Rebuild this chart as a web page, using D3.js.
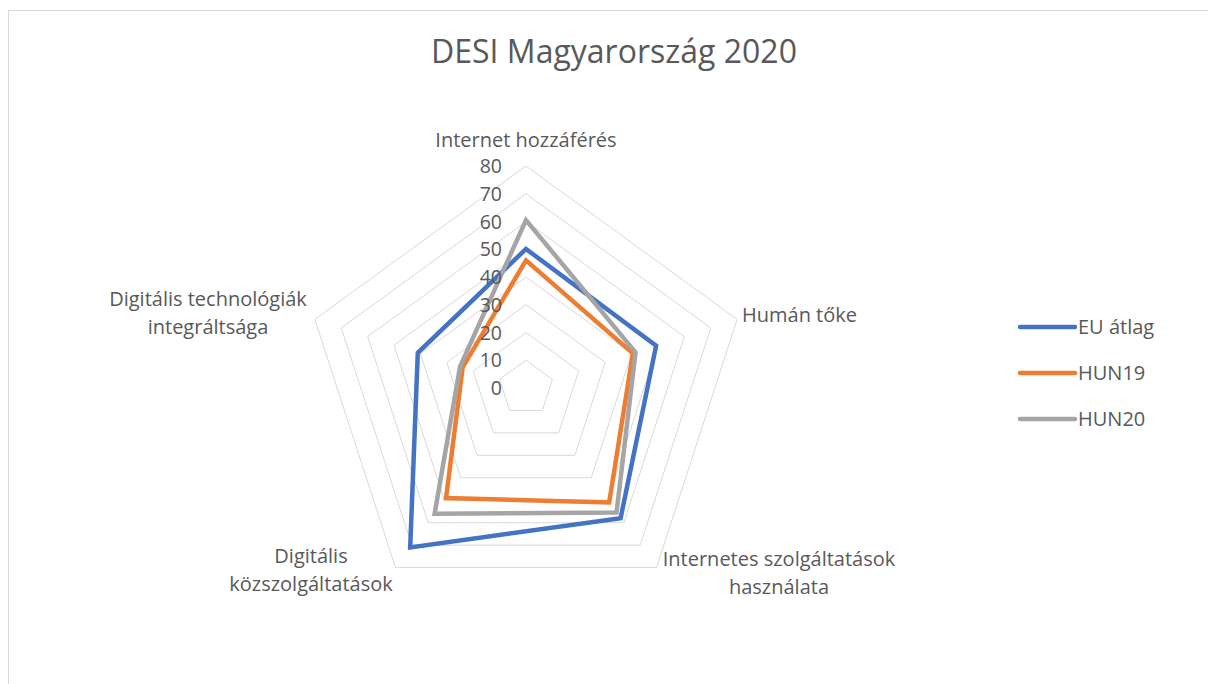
<!DOCTYPE html>
<html>
<head>
<meta charset="utf-8">
<script src="https://cdn.jsdelivr.net/npm/d3@7"></script>
<style>
  body { margin: 0; background: #fff; }
  text { font-family: "Open Sans", sans-serif; fill: #595959; }
</style>
</head>
<body>
<div id="chart"></div>
<script>
// Radar chart data
const axes = ["Internet hozzáférés", "Humán tőke", "Internetes szolgáltatások használata",
              "Digitális közszolgáltatások", "Digitális technológiák integráltsága"];
const seriesNames = ["EU átlag", "HUN19", "HUN20"];
const euValues = [50.1, 49.3, 58.0, 71.0, 41.0];
const hun19Values = [46.0, 40.5, 51.0, 49.0, 24.0];
const hun20Values = [60.5, 41.5, 55.5, 56.0, 25.0];
const ticks = [0, 10, 20, 30, 40, 50, 60, 70, 80];
const colors = ["#4472c4", "#ed7d31", "#a5a5a5"];

const width = 1208, height = 684;
const cx = 526, cy = 388, R = 222;

const svg = d3.select("#chart").append("svg")
  .attr("width", width).attr("height", height);

// chart frame
svg.append("rect")
  .attr("x", 8.5).attr("y", 10.5)
  .attr("width", 1220).attr("height", 700)
  .attr("fill", "none").attr("stroke", "#d9d9d9");

svg.append("text")
  .attr("x", 614).attr("y", 63)
  .attr("text-anchor", "middle")
  .style("font-size", "32px")
  .text("DESI Magyarország 2020");

const r = d3.scaleLinear().domain([0, 80]).range([0, R]);
const angle = i => i * 2 * Math.PI / axes.length;
const pt = (i, v) => [cx + r(v) * Math.sin(angle(i)), cy - r(v) * Math.cos(angle(i))];

// grid rings
const g = svg.append("g");
g.selectAll(".ring")
  .data(ticks.slice(1))
  .enter()
  .append("polygon")
  .attr("points", d => axes.map((a, i) => pt(i, d).join(",")).join(" "))
  .attr("fill", "none")
  .attr("stroke", "#d9d9d9")
  .attr("stroke-width", 1);

// series
const series = [euValues, hun19Values, hun20Values];
const line = d3.line().curve(d3.curveLinearClosed);
svg.selectAll(".series")
  .data(series)
  .enter()
  .append("path")
  .attr("d", d => line(d.map((v, i) => pt(i, v))))
  .attr("fill", "none")
  .attr("stroke", (d, i) => colors[i])
  .attr("stroke-width", 4.5)
  .attr("stroke-linejoin", "miter");

// tick labels
svg.selectAll(".tick")
  .data(ticks)
  .enter()
  .append("text")
  .attr("x", cx - 24)
  .attr("y", d => cy - r(d) + 7)
  .attr("text-anchor", "end")
  .style("font-size", "19.5px")
  .text(d => d);

// axis labels
const labelPos = [
  {x: 526, y: 147, anchor: "middle", lines: ["Internet hozzáférés"]},
  {x: 742, y: 322, anchor: "start", lines: ["Humán tőke"]},
  {x: 779, y: 566, anchor: "middle", lines: ["Internetes szolgáltatások", "használata"]},
  {x: 311, y: 563, anchor: "middle", lines: ["Digitális", "közszolgáltatások"]},
  {x: 208, y: 306, anchor: "middle", lines: ["Digitális technológiák", "integráltsága"]}
];
svg.selectAll(".axis-label")
  .data(labelPos)
  .enter()
  .append("text")
  .attr("text-anchor", d => d.anchor)
  .style("font-size", "20px")
  .each(function(d) {
    d3.select(this).selectAll("tspan")
      .data(d.lines)
      .enter()
      .append("tspan")
      .attr("x", d.x)
      .attr("y", (t, j) => d.y + j * 28)
      .text(t => t);
  });

// legend
const legend = svg.selectAll(".legend")
  .data(seriesNames)
  .enter()
  .append("g")
  .attr("transform", (d, i) => `translate(1020, ${327 + i * 46})`);
legend.append("line")
  .attr("x1", 0).attr("x2", 55)
  .attr("stroke", (d, i) => colors[i])
  .attr("stroke-width", 4.5)
  .attr("stroke-linecap", "round");
legend.append("text")
  .attr("x", 58).attr("y", 7)
  .style("font-size", "20px")
  .text(d => d);
</script>
</body>
</html>
